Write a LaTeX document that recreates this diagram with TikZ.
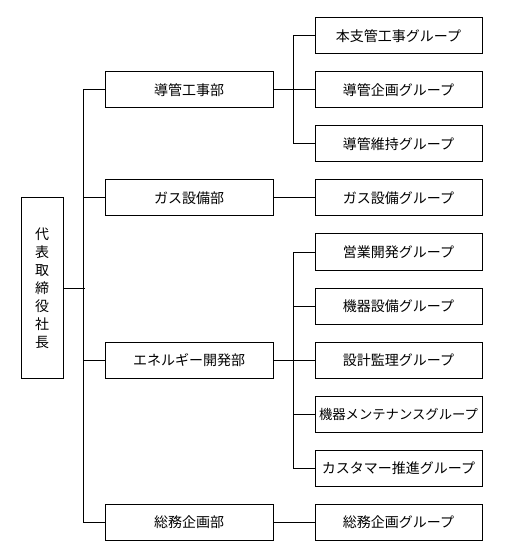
\documentclass[tikz,border=0pt]{standalone}
\usepackage{fontspec}
\newfontfamily\jp{Noto Sans CJK JP}
\begin{document}
\begin{tikzpicture}[x=0.75pt,y=-0.75pt,line width=0.75pt,
	box/.style={draw,rectangle,inner sep=0pt,font=\jp\fontsize{10.5}{13.5}\selectfont},
	bu/.style={box,minimum width=126pt,minimum height=27pt},
	gr/.style={box,minimum width=125.25pt,minimum height=27pt}]
	\useasboundingbox (0,0) rectangle (505,559);
	\node[box,minimum width=31.5pt,minimum height=135pt,align=center] (ceo) at (42,288) {代\\表\\取\\締\\役\\社\\長};
	\node[bu] (b1) at (189,90) {導管工事部};
	\node[bu] (b2) at (189,198) {ガス設備部};
	\node[bu] (b3) at (189,360) {エネルギー開発部};
	\node[bu] (b4) at (189,522) {総務企画部};
	\node[gr] (g1) at (398.5,36) {本支管工事グループ};
	\node[gr] (g2) at (398.5,90) {導管企画グループ};
	\node[gr] (g3) at (398.5,144) {導管維持グループ};
	\node[gr] (g4) at (398.5,198) {ガス設備グループ};
	\node[gr] (g5) at (398.5,252) {営業開発グループ};
	\node[gr] (g6) at (398.5,306) {機器設備グループ};
	\node[gr] (g7) at (398.5,360) {設計監理グループ};
	\node[gr] (g8) at (398.5,414) {\fontsize{10}{12}\selectfont 機器メンテナンスグループ};
	\node[gr] (g9) at (398.5,468) {カスタマー推進グループ};
	\node[gr] (g10) at (398.5,522) {総務企画グループ};
	% president to departments
	\draw (ceo.east) -- ++(21,0);
	\draw (b1.west) -- ++(-21,0) |- (b4.west);
	\draw (b2.west) -- ++(-21,0);
	\draw (b3.west) -- ++(-21,0);
	% departments to groups
	\draw (b1.east) -- (g2.west);
	\draw (g1.west) -- ++(-21,0) |- (g3.west);
	\draw (b2.east) -- (g4.west);
	\draw (b3.east) -- (g7.west);
	\draw (g5.west) -- ++(-21,0) |- (g9.west);
	\draw (g6.west) -- ++(-21,0);
	\draw (g8.west) -- ++(-21,0);
	\draw (b4.east) -- (g10.west);
\end{tikzpicture}
\end{document}
